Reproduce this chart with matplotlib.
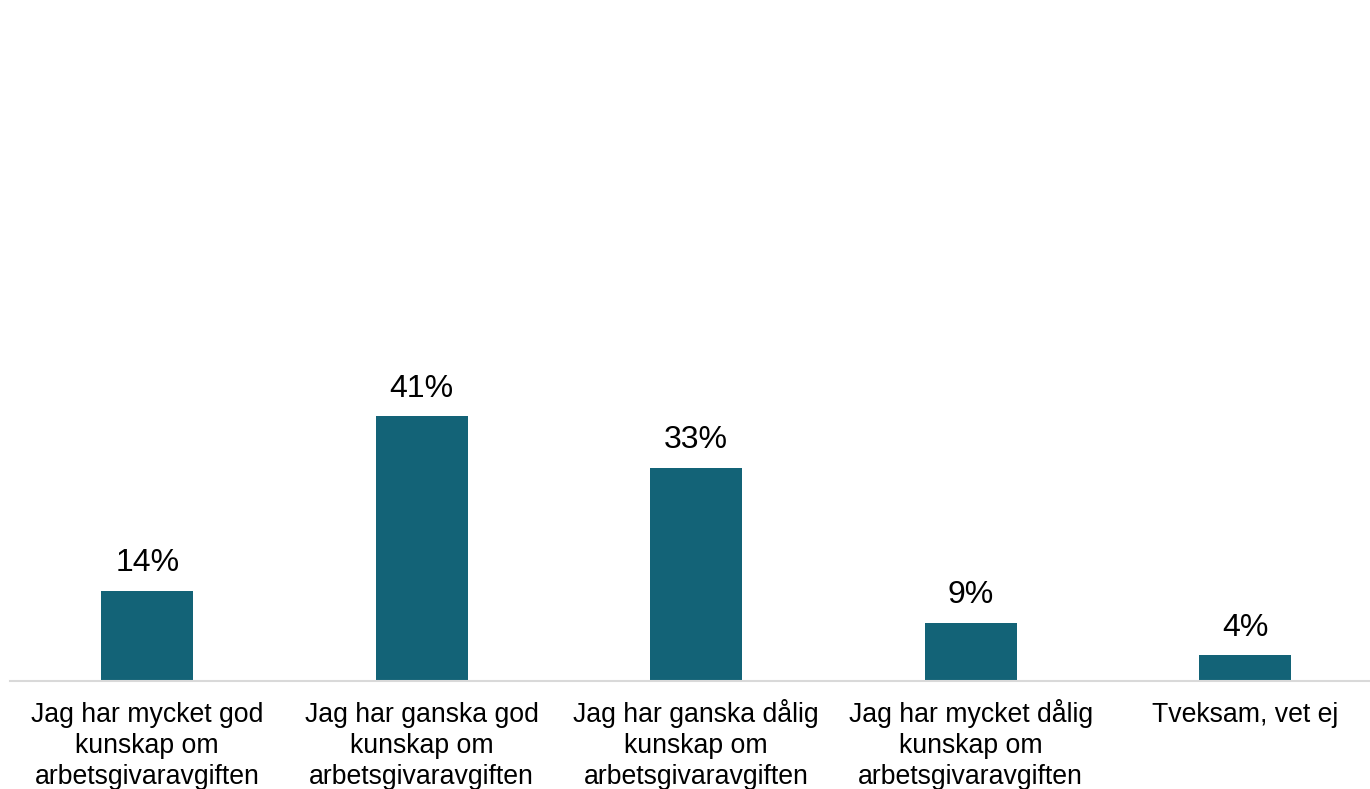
import matplotlib
matplotlib.use("Agg")
import matplotlib.pyplot as plt

categories = [
    "Jag har mycket god\nkunskap om\narbetsgivaravgiften",
    "Jag har ganska god\nkunskap om\narbetsgivaravgiften",
    "Jag har ganska dålig\nkunskap om\narbetsgivaravgiften",
    "Jag har mycket dålig\nkunskap om\narbetsgivaravgiften",
    "Tveksam, vet ej",
]
values = [14, 41, 33, 9, 4]
value_labels = ["14%", "41%", "33%", "9%", "4%"]

plt.rcParams['font.family'] = ['Liberation Sans', 'DejaVu Sans']

fig = plt.figure(figsize=(13.7, 7.89), dpi=100)
ax = fig.add_axes([10/1370, 108/789, 1360/1370, 681/789])

x = list(range(len(values)))
bars = ax.bar(x, values, width=0.335, color="#136377", zorder=2)

ax.set_xlim(-0.5, 4.455)
ax.set_ylim(0, 105.4)

for spine in ["top", "right", "left"]:
    ax.spines[spine].set_visible(False)
ax.spines["bottom"].set_color("#d9d9d9")
ax.spines["bottom"].set_linewidth(1.5)
ax.set_yticks([])
ax.set_xticks([])

for xi, v, lab in zip(x, values, value_labels):
    ax.annotate(lab, (xi, v), xytext=(0, 9), textcoords="offset points",
                ha="center", va="bottom", fontsize=23, color="#000000")

line_pitch_pt = 22.3
for xi, cat in zip(x, categories):
    for i, line in enumerate(cat.split("\n")):
        ax.annotate(line, (xi, 0), xycoords=("data", "axes fraction"),
                    xytext=(0, -29.5 - i * line_pitch_pt), textcoords="offset points",
                    ha="center", va="baseline", fontsize=19.2, color="#000000")

fig.savefig("out.png", dpi=100)
